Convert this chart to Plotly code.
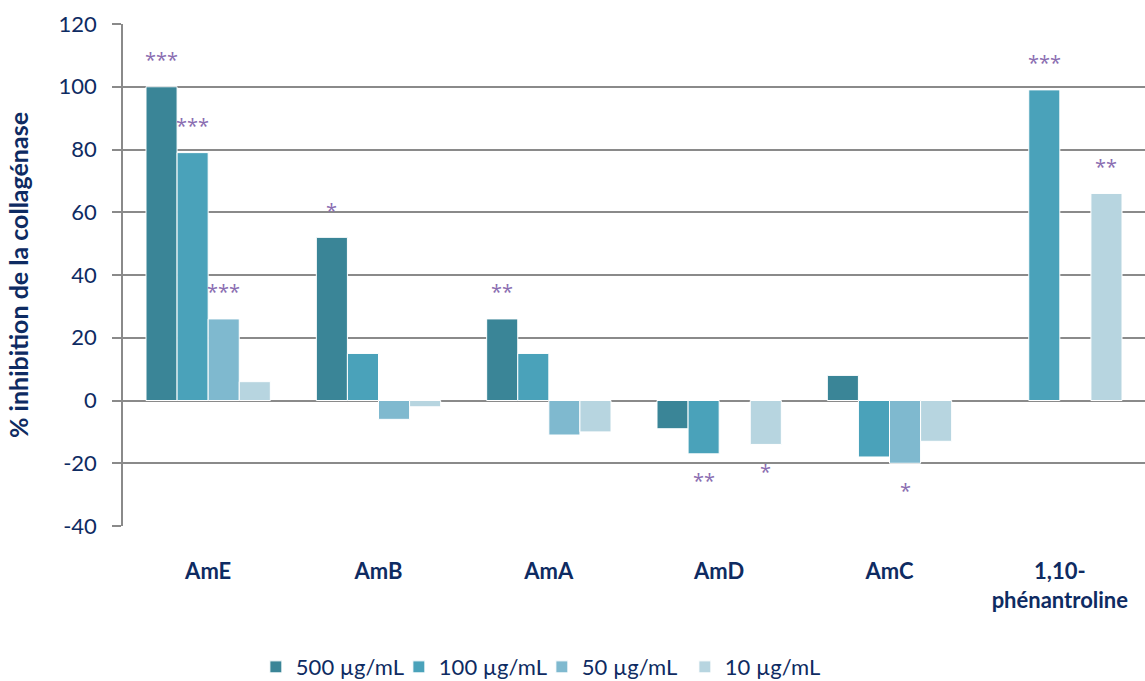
import plotly.graph_objects as go

categories = ["AmE", "AmB", "AmA", "AmD", "AmC", "1,10-<br>phénantroline"]
series_names = ["500 µg/mL", "100 µg/mL", "50 µg/mL", "10 µg/mL"]

inh_500 = [100, 52, 26, -9, 8, None]
inh_100 = [79, 15, 15, -17, -18, 99]
inh_50 = [26, -6, -11, None, -20, None]
inh_10 = [6, -2, -10, -14, -13, 66]

# significance stars for each bar
stars_500 = ["***", "*", "**", "", "", ""]
stars_100 = ["***", "", "", "**", "", "***"]
stars_50 = ["***", "", "", "", "*", ""]
stars_10 = ["", "", "", "*", "", "**"]

y_ticks = [-40, -20, 0, 20, 40, 60, 80, 100, 120]
y_tick_labels = ["-40", "-20", "0", "20", "40", "60", "80", "100", "120"]

colors = ["#3A8597", "#4AA2BA", "#7FB9CF", "#B7D5E0"]
navy = "#0E2B62"
grid = "#8A8A8A"
star_color = "#8A6DB1"

bargap = 0.27
plot_w = 1022

all_vals = [inh_500, inh_100, inh_50, inh_10]
all_stars = [stars_500, stars_100, stars_50, stars_10]

fig = go.Figure()
for name, vals, col in zip(series_names, all_vals, colors):
    fig.add_trace(go.Bar(
        x=categories,
        y=vals,
        name=name,
        marker=dict(color=col, line=dict(color="white", width=1)),
        hoverinfo="x+y+name",
    ))

# stars above (or below) the bars, shifted to the bar inside its group
bar_px = plot_w / len(categories) * (1 - bargap) / len(series_names)
for i, (vals, stars) in enumerate(zip(all_vals, all_stars)):
    for cat, v, s in zip(categories, vals, stars):
        if not s or v is None:
            continue
        fig.add_annotation(
            x=cat, y=v, text=s, showarrow=False,
            xshift=(i - 1.5) * bar_px,
            yshift=27 if v >= 0 else -27,
            yanchor="middle",
            font=dict(family="Open Sans", size=20, color=star_color),
        )

fig.update_layout(
    width=1145,
    height=681,
    margin=dict(l=123, r=0, t=24, b=155, autoexpand=False),
    plot_bgcolor="white",
    paper_bgcolor="white",
    barmode="group",
    bargap=bargap,
    bargroupgap=0,
    font=dict(family="Lato", color=navy),
    legend=dict(
        orientation="h",
        x=0.13,
        xanchor="left",
        y=-0.281,
        yanchor="middle",
        font=dict(size=22, color=navy),
        itemwidth=30,
        entrywidth=98,
    ),
    xaxis=dict(
        type="category",
        categoryorder="array",
        categoryarray=categories,
        range=[-0.5, 5.5],
        showline=False,
        showgrid=False,
        zeroline=False,
        ticks="",
        ticklabelstandoff=30,
        tickfont=dict(size=22, color=navy, family="Lato", weight="bold"),
        automargin=False,
    ),
    xaxis2=dict(
        type="category",
        categoryorder="array",
        categoryarray=categories,
        range=[-0.5, 5.5],
        overlaying="x",
        anchor="free",
        position=40 / 160,
        showticklabels=False,
        showgrid=False,
        showline=False,
        zeroline=False,
        ticks="outside",
        tickson="boundaries",
        ticklen=8,
        tickwidth=1.5,
        tickcolor=grid,
    ),
    yaxis=dict(
        range=[-40, 120],
        tickvals=y_ticks,
        ticktext=y_tick_labels,
        showgrid=True,
        gridcolor=grid,
        gridwidth=1.5,
        zeroline=False,
        showline=True,
        linecolor=grid,
        linewidth=1.5,
        ticks="outside",
        ticklen=9,
        tickwidth=1.5,
        tickcolor=grid,
        ticklabelstandoff=11,
        tickfont=dict(size=22, color=navy, family="Lato"),
        title=dict(
            text="% inhibition de la collagénase",
            font=dict(size=25, color=navy, family="Lato", weight="bold"),
            standoff=23,
        ),
        automargin=False,
    ),
)

fig.write_html("out.html", config={"displayModeBar": False},
               post_script="document.body.style.margin='0';")
